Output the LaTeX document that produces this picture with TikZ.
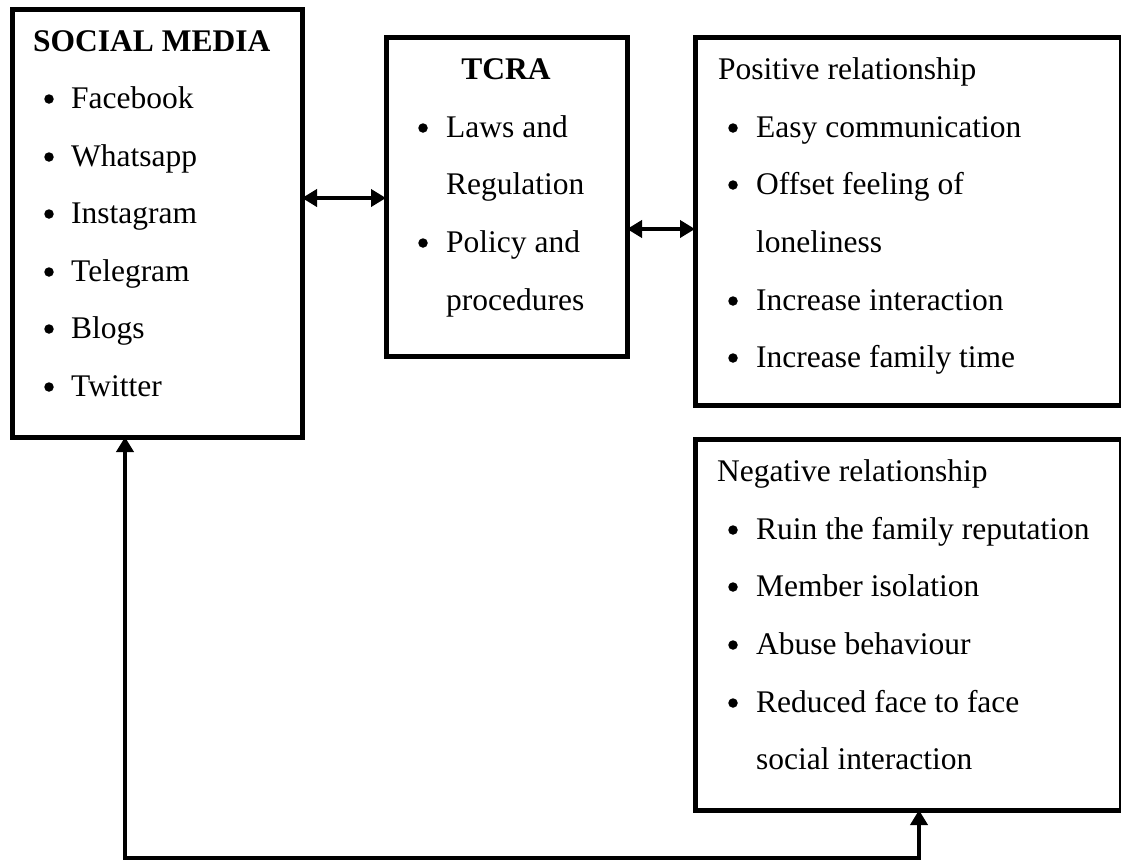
\documentclass[tikz,border=0pt]{standalone}
\usepackage{fontspec}
\setmainfont{Liberation Serif}
\usetikzlibrary{arrows.meta}
\newcommand\dfs{\fontsize{31.5}{38}\selectfont}
\begin{document}
\begin{tikzpicture}[x=1pt,y=-1pt,
  box/.style={draw=black, line width=5pt, rectangle, inner sep=0pt, outer sep=0pt},
  txt/.style={anchor=base west, inner sep=0pt, font=\dfs},
  ctxt/.style={anchor=base, inner sep=0pt, font=\dfs},
  bul/.style={circle, fill=black, inner sep=0pt, minimum size=9.5pt},
  conn/.style={line width=4pt, {Triangle[length=15pt,width=17pt]}-{Triangle[length=15pt,width=17pt]}}
]
\useasboundingbox[fill=white] (0,0) rectangle (1121,863);

% boxes
\node[box, minimum width=290pt, minimum height=428pt] (sm) at (157,223) {};
\node[box, minimum width=241pt, minimum height=319pt] (tcra) at (506.5,196.5) {};
\node[box, minimum width=426pt, minimum height=368pt] (pos) at (908,221) {};
\node[box, minimum width=426pt, minimum height=371pt] (neg) at (908,624.5) {};

% social media text
\node[txt] (smt) at (33,51) {\bfseries SOCIAL MEDIA};
\node[bul] (smb1) at (49,99) {}; \node[txt] (sm1) at (71,108) {Facebook};
\node[bul] (smb2) at (49,157) {}; \node[txt] (sm2) at (71,166) {Whatsapp};
\node[bul] (smb3) at (49,214) {}; \node[txt] (sm3) at (71,223) {Instagram};
\node[bul] (smb4) at (49,272) {}; \node[txt] (sm4) at (71,281) {Telegram};
\node[bul] (smb5) at (49,329) {}; \node[txt] (sm5) at (71,338) {Blogs};
\node[bul] (smb6) at (49,387) {}; \node[txt] (sm6) at (71,396) {Twitter};

% TCRA text
\node[ctxt] (tct) at (506,79) {\bfseries TCRA};
\node[bul] (tcb1) at (423,128) {}; \node[txt] (tc1) at (446,137) {Laws and};
\node[txt] (tc2) at (446,194) {Regulation};
\node[bul] (tcb3) at (423,243) {}; \node[txt] (tc3) at (446,252) {Policy and};
\node[txt] (tc4) at (446,310) {procedures};

% positive text
\node[txt] (pt) at (718,79) {Positive relationship};
\node[bul] (pb1) at (733,128) {}; \node[txt] (p1) at (756,137) {Easy communication};
\node[bul] (pb2) at (733,185) {}; \node[txt] (p2) at (756,194) {Offset feeling of};
\node[txt] (p3) at (756,252) {loneliness};
\node[bul] (pb4) at (733,301) {}; \node[txt] (p4) at (756,310) {Increase interaction};
\node[bul] (pb5) at (733,358) {}; \node[txt] (p5) at (756,367) {Increase family time};

% negative text
\node[txt] (nt) at (717,481) {Negative relationship};
\node[bul] (nb1) at (733,530) {}; \node[txt] (n1) at (756,539) {Ruin the family reputation};
\node[bul] (nb2) at (733,587) {}; \node[txt] (n2) at (756,596) {Member isolation};
\node[bul] (nb3) at (733,645) {}; \node[txt] (n3) at (756,654) {Abuse behaviour};
\node[bul] (nb4) at (733,703) {}; \node[txt] (n4) at (756,712) {Reduced face to face};
\node[txt] (n5) at (756,769) {social interaction};

% connectors
\coordinate (a1) at (0,198);
\coordinate (a2) at (0,229);
\coordinate (bl) at (125,858);
\coordinate (br) at (919,858);
\draw[conn] (sm.east |- a1) -- (tcra.west |- a1);
\draw[conn] (tcra.east |- a2) -- (pos.west |- a2);
\draw[conn, line join=miter] (sm.south -| bl) -- (bl) -- (br) -- (neg.south -| br);
\end{tikzpicture}
\end{document}
